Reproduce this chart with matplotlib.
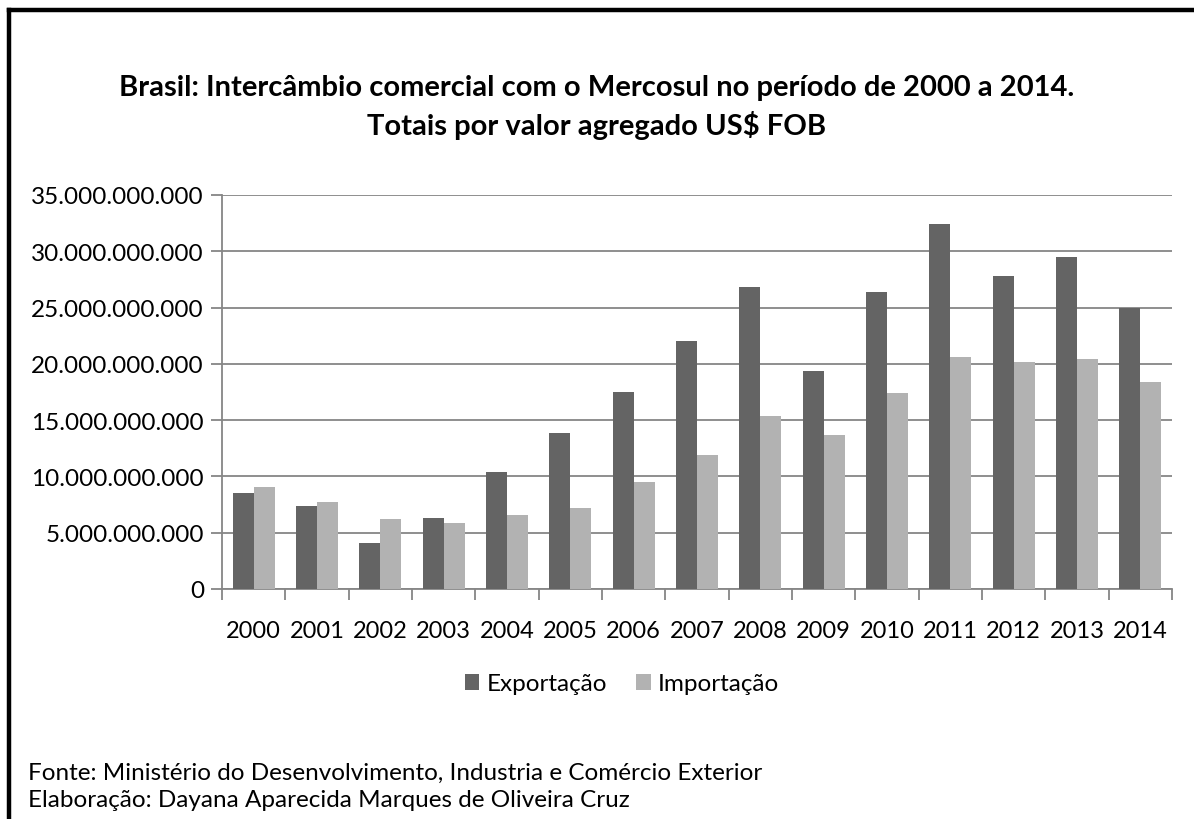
import matplotlib.pyplot as plt
from matplotlib.lines import Line2D
from matplotlib.ticker import FuncFormatter
import numpy as np

years = ['2000', '2001', '2002', '2003', '2004', '2005', '2006', '2007',
         '2008', '2009', '2010', '2011', '2012', '2013', '2014']
exportacao = [8.5, 7.4, 4.1, 6.3, 10.4, 13.9, 17.5, 22.0, 26.8, 19.4,
              26.4, 32.4, 27.8, 29.5, 25.0]
importacao = [9.1, 7.7, 6.2, 5.9, 6.6, 7.2, 9.5, 11.9, 15.4, 13.7,
              17.4, 20.6, 20.2, 20.4, 18.4]
exportacao = [v * 1e9 for v in exportacao]
importacao = [v * 1e9 for v in importacao]

plt.rcParams['font.family'] = ['Lato', 'DejaVu Sans']

W, H = 1194, 820
fig = plt.figure(figsize=(W / 100, H / 100), dpi=100)

# outer frame (left and top only visible)
fig.add_artist(Line2D([9 / W, 9 / W], [0, 1 - 11 / H], color='black', lw=3.2,
                      solid_capstyle='projecting'))
fig.add_artist(Line2D([9 / W, 1], [1 - 11 / H, 1 - 11 / H], color='black', lw=3.2,
                      solid_capstyle='projecting'))
fig.text(12 / W, 1 - 3 / H, 'Gráfico 2', family='Liberation Serif',
         fontweight='bold', fontsize=15, ha='left', va='bottom')

ax = fig.add_axes([222 / W, 1 - 590 / H, (1172 - 222) / W, (590 - 196) / H])
x = np.arange(len(years))
w = 0.33
ax.bar(x - w / 2, exportacao, w, color='#646464', label='Exportação', zorder=3)
ax.bar(x + w / 2, importacao, w, color='#b2b2b2', label='Importação', zorder=3)

ax.set_xlim(-0.5, len(years) - 0.5)
ax.set_ylim(0, 35e9)
ax.set_yticks(np.arange(0, 35e9 + 1, 5e9))
ax.yaxis.set_major_formatter(FuncFormatter(lambda v, p: f'{int(v):,}'.replace(',', '.')))
ax.grid(axis='y', color='#868686', lw=1.3, zorder=0)
for s in ['top', 'right']:
    ax.spines[s].set_visible(False)
for s in ['left', 'bottom']:
    ax.spines[s].set_color('#868686')
    ax.spines[s].set_linewidth(1.3)
ax.tick_params(axis='y', length=8, width=1.3, color='#868686', labelsize=17.5, pad=5)
ax.set_xticks(np.arange(-0.5, len(years)), minor=False)
ax.set_xticklabels([])
ax.set_xticks(x, minor=True)
ax.set_xticklabels(years, minor=True)
ax.tick_params(axis='x', which='major', length=8, width=1.3, color='#868686')
ax.tick_params(axis='x', which='minor', length=0, labelsize=17, pad=22)

fig.text(0.5, 1 - 88 / H, 'Brasil: Intercâmbio comercial com o Mercosul no período de 2000 a 2014.',
         ha='center', va='center', fontsize=21, fontweight='bold')
fig.text(0.5, 1 - 125 / H, 'Totais por valor agregado US$ FOB',
         ha='center', va='center', fontsize=21, fontweight='bold')

fig.legend(loc='center', bbox_to_anchor=(622 / W, 1 - 685 / H), ncol=2, frameon=False,
           fontsize=17.5, handlelength=0.6, handleheight=0.6, handletextpad=0.3,
           columnspacing=1.2)

fig.text(28 / W, 1 - 773 / H, 'Fonte: Ministério do Desenvolvimento, Industria e Comércio Exterior',
         ha='left', va='center', fontsize=17.5)
fig.text(28 / W, 1 - 801 / H, 'Elaboração: Dayana Aparecida Marques de Oliveira Cruz',
         ha='left', va='center', fontsize=17.5)

fig.savefig('out.png', dpi=100)
